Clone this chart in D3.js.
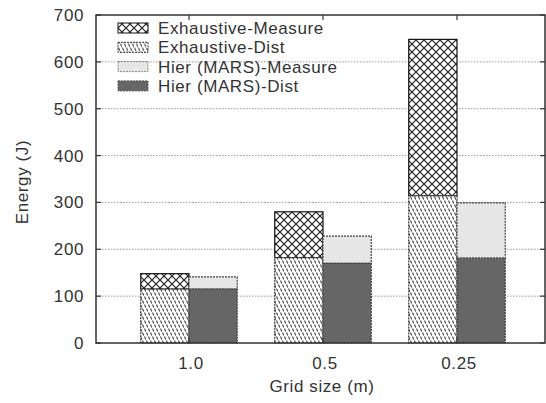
<!DOCTYPE html>
<html>
<head>
<meta charset="utf-8">
<script src="https://cdn.jsdelivr.net/npm/d3@7"></script>
<style>
  body { margin: 0; background: #fff; }
  svg { display: block; font-family: "Liberation Sans", Arial, sans-serif; letter-spacing: 0.6px; }
</style>
</head>
<body>
<div id="chart"></div>
<script>
// grid sizes on x axis
const gridSizes = ["1.0", "0.5", "0.25"];
const seriesNames = ["Exhaustive-Measure", "Exhaustive-Dist", "Hier (MARS)-Measure", "Hier (MARS)-Dist"];
// distance part and total (dist + measure) for each approach
const exhaustiveDist = [115, 182, 314];
const exhaustiveTotal = [148, 280, 648];
const hierDist = [115, 170, 181];
const hierTotal = [141, 228, 299];
const yTicks = [0, 100, 200, 300, 400, 500, 600, 700];

const W = 546, H = 403;
const frame = { left: 96, right: 545, top: 15, bottom: 343 };
const fs = 17;

const svg = d3.select("#chart").append("svg")
  .attr("width", W).attr("height", H);

const defs = svg.append("defs");

// cross hatch for exhaustive measure
const cross = defs.append("pattern").attr("id", "cross")
  .attr("patternUnits", "userSpaceOnUse").attr("width", 8).attr("height", 8);
cross.append("rect").attr("width", 8).attr("height", 8).attr("fill", "#fff");
cross.append("path").attr("d", "M0,0L8,8M8,0L0,8")
  .attr("stroke", "#222").attr("stroke-width", 1.2);

// short steep dashes in diagonal rows for exhaustive dist
const hatch = defs.append("pattern").attr("id", "hatch")
  .attr("patternUnits", "userSpaceOnUse").attr("width", 4).attr("height", 8);
hatch.append("rect").attr("width", 4).attr("height", 8).attr("fill", "#fff");
hatch.append("path").attr("d", "M0.5,0.5L1.8,3.5M2.5,4.5L3.8,7.5")
  .attr("stroke", "#444").attr("stroke-width", 1.1);

const x = d3.scaleBand().domain(gridSizes).range([122, 524]).paddingInner(0.28).paddingOuter(0.14);
const y = d3.scaleLinear().domain([0, 700]).range([frame.bottom, frame.top]);
const bw = x.bandwidth() / 2;

// grid lines
svg.append("g").selectAll("line").data(yTicks.slice(1, -1)).join("line")
  .attr("x1", frame.left).attr("x2", frame.right)
  .attr("y1", d => y(d)).attr("y2", d => y(d))
  .attr("stroke", "#999").attr("stroke-width", 1).attr("stroke-dasharray", "1.5,1.5");

const bars = svg.append("g");
const idx = d3.range(gridSizes.length);

function stackBar(xOff, vals0, vals1, fill, stroke, dash) {
  bars.append("g").selectAll("rect").data(idx).join("rect")
    .attr("x", i => x(gridSizes[i]) + xOff)
    .attr("width", bw)
    .attr("y", i => y(vals1[i]))
    .attr("height", i => y(vals0 ? vals0[i] : 0) - y(vals1[i]))
    .attr("fill", fill).attr("stroke", stroke).attr("stroke-width", 1.2)
    .attr("stroke-dasharray", dash);
}
stackBar(0, exhaustiveDist, exhaustiveTotal, "url(#cross)", "#111", null);
stackBar(0, null, exhaustiveDist, "url(#hatch)", "#333", "2,1");
stackBar(bw, hierDist, hierTotal, "#e6e6e6", "#444", "2,1");
stackBar(bw, null, hierDist, "#666666", "#444", "2,1");

// frame
svg.append("rect").attr("x", frame.left).attr("y", frame.top)
  .attr("width", frame.right - frame.left).attr("height", frame.bottom - frame.top)
  .attr("fill", "none").attr("stroke", "#333").attr("stroke-width", 1.5);

// y axis ticks and labels
const yAxis = svg.append("g");
yTicks.forEach(t => {
  yAxis.append("line").attr("x1", frame.left).attr("x2", frame.left + 5)
    .attr("y1", y(t)).attr("y2", y(t)).attr("stroke", "#333").attr("stroke-width", 1.2);
  yAxis.append("line").attr("x1", frame.right - 5).attr("x2", frame.right)
    .attr("y1", y(t)).attr("y2", y(t)).attr("stroke", "#333").attr("stroke-width", 1.2);
  yAxis.append("text").attr("x", 84).attr("y", y(t)).attr("dy", "0.35em")
    .attr("text-anchor", "end").attr("font-size", fs).attr("fill", "#333").text(t);
});

// x axis ticks and labels
gridSizes.forEach(g => {
  const cx = x(g) + x.bandwidth() / 2;
  svg.append("line").attr("x1", cx).attr("x2", cx).attr("y1", frame.bottom).attr("y2", frame.bottom - 5)
    .attr("stroke", "#333").attr("stroke-width", 1.2);
  svg.append("line").attr("x1", cx).attr("x2", cx).attr("y1", frame.top).attr("y2", frame.top + 5)
    .attr("stroke", "#333").attr("stroke-width", 1.2);
  svg.append("text").attr("x", cx + 2).attr("y", 363).attr("dy", "0.35em")
    .attr("text-anchor", "middle").attr("font-size", fs).attr("fill", "#333").text(g);
});

svg.append("text").attr("x", 322).attr("y", 386).attr("dy", "0.35em")
  .attr("text-anchor", "middle").attr("font-size", fs).attr("fill", "#333").text("Grid size (m)");
svg.append("text").attr("transform", "translate(22,182) rotate(-90)").attr("dy", "0.35em")
  .attr("text-anchor", "middle").attr("font-size", fs).attr("fill", "#333").text("Energy (J)");

// legend
const legendFills = ["url(#cross)", "url(#hatch)", "#e6e6e6", "#666666"];
const legendStrokes = ["#111", "#333", "#888", "#555"];
const legendDash = [null, "2,1", "2,1", "2,1"];
const legend = svg.append("g").attr("transform", "translate(118,28)");
seriesNames.forEach((name, i) => {
  const row = legend.append("g").attr("transform", `translate(0,${i * 19.3})`);
  row.append("rect").attr("x", 0).attr("y", -5).attr("width", 30).attr("height", 10)
    .attr("fill", legendFills[i]).attr("stroke", legendStrokes[i]).attr("stroke-width", 1)
    .attr("stroke-dasharray", legendDash[i]);
  row.append("text").attr("x", 40).attr("y", 0).attr("dy", "0.35em")
    .attr("font-size", fs).attr("fill", "#333").text(name);
});
</script>
</body>
</html>
